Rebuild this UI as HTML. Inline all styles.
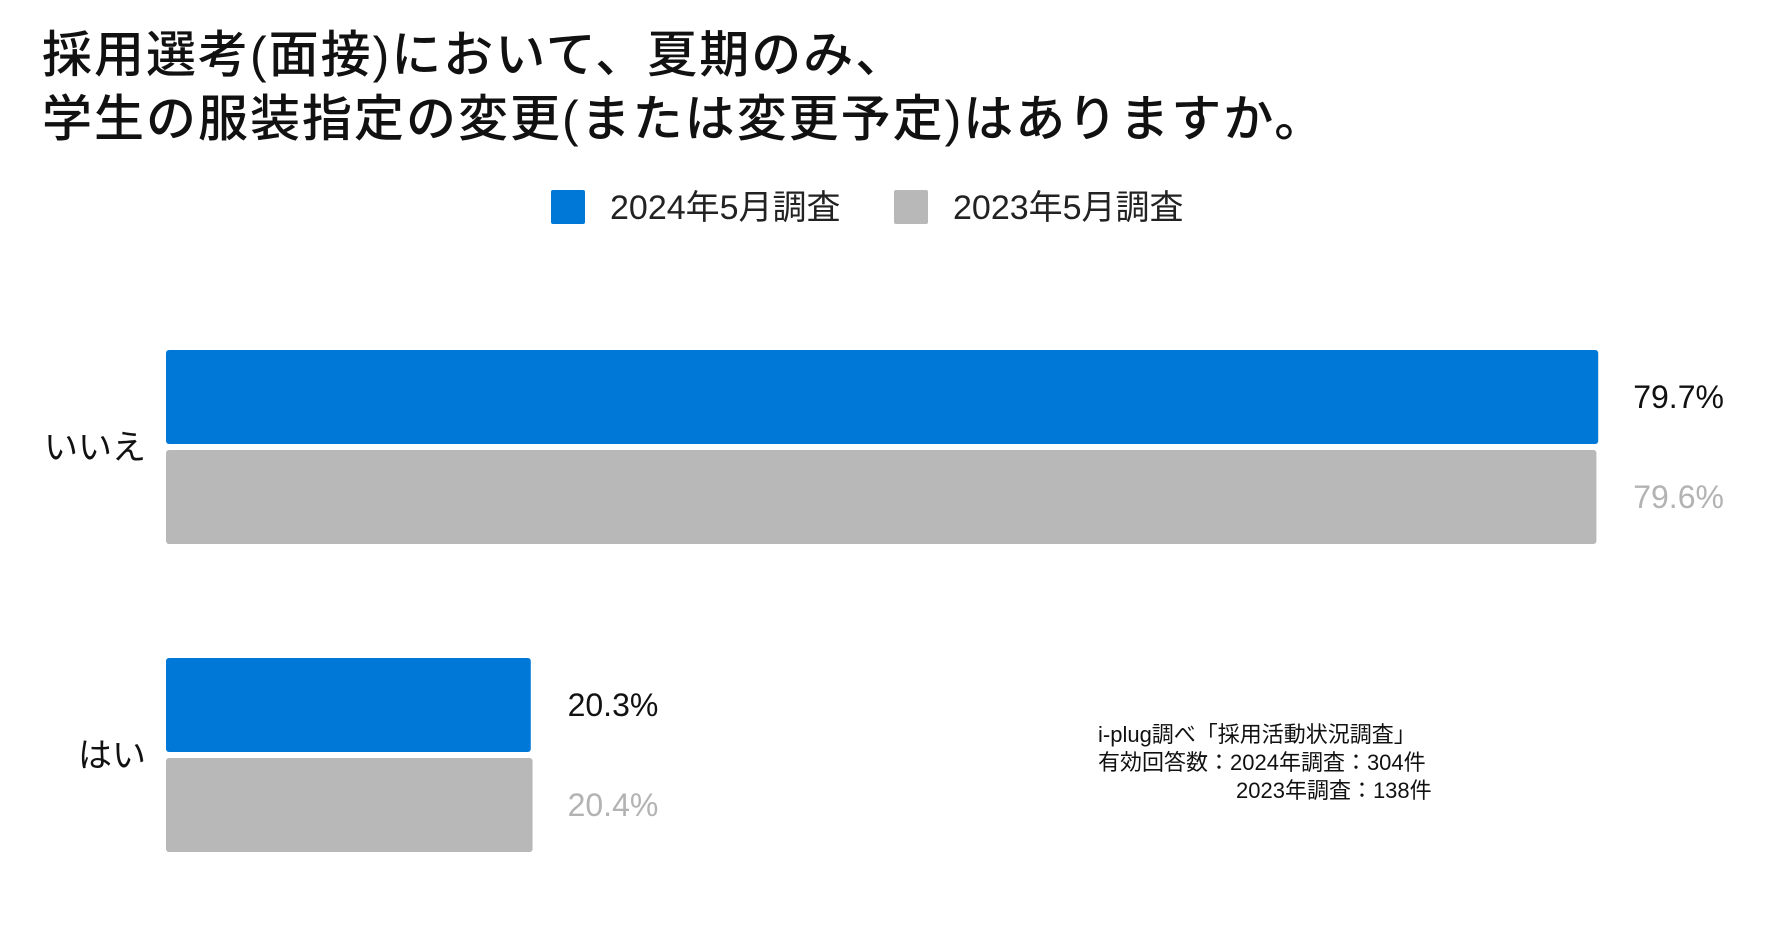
<!DOCTYPE html>
<html><head><meta charset="utf-8"><style>
body{margin:0;width:1784px;height:944px;background:#fff;overflow:hidden;font-family:"Liberation Sans","Noto Sans CJK JP",sans-serif;}
</style></head><body>
<svg width="1784" height="944" xmlns="http://www.w3.org/2000/svg" font-family="Liberation Sans, Noto Sans CJK JP, sans-serif">
<text x="42" y="72" font-size="50" font-weight="500" letter-spacing="2" fill="#111">採用選考(面接)において、夏期のみ、</text>
<text x="42" y="136" font-size="50" font-weight="500" letter-spacing="2" fill="#111">学生の服装指定の変更(または変更予定)はありますか。</text>
<rect x="551" y="190" width="34" height="34" rx="2" fill="#0078d7"/>
<text x="610" y="219" font-size="34" fill="#222">2024年5月調査</text>
<rect x="894" y="190" width="34" height="34" rx="2" fill="#b8b8b8"/>
<text x="953" y="219" font-size="34" fill="#222">2023年5月調査</text>
<g id="bars"></g>
<text x="1098" y="742" font-size="22" fill="#111">i-plug調べ「採用活動状況調査」</text>
<text x="1098" y="770" font-size="22" fill="#111">有効回答数：2024年調査：304件</text>
<text x="1236" y="798" font-size="22" fill="#111">2023年調査：138件</text>
</svg>
<script>
const categories = ["いいえ", "はい"];
const values2024 = [79.7, 20.3];
const values2023 = [79.6, 20.4];
const labels2024 = ["79.7%", "20.3%"];
const labels2023 = ["79.6%", "20.4%"];
const NS = "http://www.w3.org/2000/svg";
const g = document.getElementById("bars");
const x0 = 166, perPct = 17.97;
const xScale = v => v * perPct;
const groupTop = [350, 658];
const barH = 94, gap = 6;
function mk(tag, attrs) { const e = document.createElementNS(NS, tag); for (const k in attrs) e.setAttribute(k, attrs[k]); g.appendChild(e); return e; }
categories.forEach((c, i) => {
  const y1 = groupTop[i], y2 = y1 + barH + gap;
  const b1 = mk("rect", {x: x0, y: y1, width: xScale(values2024[i]), height: barH, rx: 3, fill: "#0078d7"});
  
  
  const b2 = mk("rect", {x: x0, y: y2, width: xScale(values2023[i]), height: barH, rx: 3, fill: "#b8b8b8"});
  
  
  const lx = x0 + xScale(Math.max(values2024[i], values2023[i])) + 35;
  const t1 = mk("text", {x: lx, y: y1 + barH/2 + 11, "font-size": 32, fill: "#111"});
  t1.textContent = labels2024[i];
  
  
  const t2 = mk("text", {x: lx, y: y2 + barH/2 + 11, "font-size": 32, fill: "#b3b3b3"});
  t2.textContent = labels2023[i];
  
  
  const cl = mk("text", {x: 146, y: y1 + barH + gap/2 + 12, "font-size": 34, fill: "#111", "text-anchor": "end"});
  cl.textContent = c;
  
  
});
</script>
</body></html>
